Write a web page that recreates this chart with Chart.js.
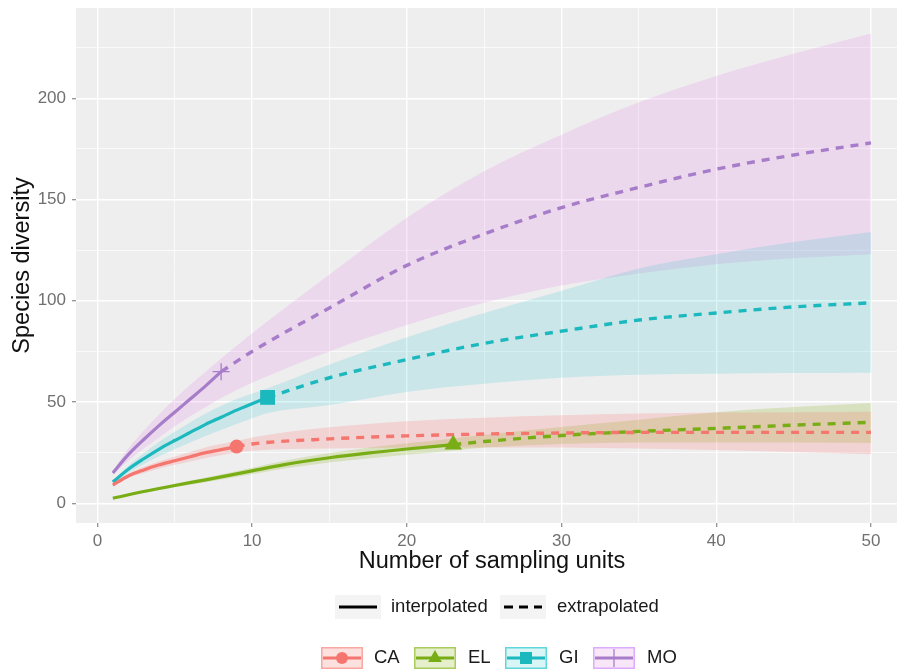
<!DOCTYPE html>
<html>
<head>
<meta charset="utf-8">
<script src="https://cdn.jsdelivr.net/npm/chart.js@4.4.1/dist/chart.umd.min.js"></script>
<style>
  html, body { margin: 0; padding: 0; background: #ffffff; }
  canvas { display: block; }
</style>
</head>
<body>
<canvas id="chart" width="897" height="670"></canvas>
<script>
// Axis ticks
const xMajorTicks = [0, 10, 20, 30, 40, 50];
const xMinorTicks = [5, 15, 25, 35, 45];
const yMajorTicks = [0, 50, 100, 150, 200];
const yMinorTicks = [25, 75, 125, 175, 225];
const xTitle = 'Number of sampling units';
const yTitle = 'Species diversity';

// Assemblages and their observed number of sampling units
const assemblages = ['CA', 'EL', 'GI', 'MO'];
const observedUnits = [9, 23, 11, 8];

// CA: rarefaction / extrapolation curve with 95% band
const caUnits = [1, 2, 3, 4, 5, 6, 7, 8, 9, 10, 15, 20, 25, 30, 35, 40, 45, 50];
const caMean  = [9, 13.5, 16.5, 19, 21, 23, 25, 26.5, 28, 29.3, 31.8, 33.3, 34.2, 34.7, 35, 35, 35, 35];
const caLower = [8.6, 12.5, 15, 17.2, 19, 20.7, 22.4, 23.7, 25.2, 26, 27, 27.5, 27.6, 27.5, 27, 26.3, 25.3, 24.2];
const caUpper = [9.4, 14.5, 18, 20.8, 23, 25.3, 27.6, 29.3, 30.8, 32.5, 37.5, 40.5, 42.3, 43.5, 44.3, 44.8, 45, 45.2];

// EL
const elUnits = [1, 3, 5, 7, 10, 12, 15, 18, 20, 23, 25, 30, 35, 40, 45, 50];
const elMean  = [2.5, 5.8, 8.8, 11.6, 16, 19, 22.5, 25.2, 26.8, 29, 30.5, 33.5, 35.5, 37, 38.6, 40];
const elLower = [2.2, 5.2, 7.9, 10.4, 14.4, 17.1, 20.2, 22.5, 24, 26, 27.5, 29.3, 30, 30, 30, 29.8];
const elUpper = [2.8, 6.4, 9.7, 12.8, 17.6, 20.9, 24.8, 27.9, 29.6, 32, 33.8, 37.7, 41.3, 45, 47.5, 49.5];

// GI
const giUnits = [1, 2, 3, 4, 5, 6, 7, 8, 9, 10, 11, 15, 20, 25, 30, 35, 40, 45, 50];
const giMean  = [10.5, 16.8, 22, 26.8, 31, 35, 39, 42.5, 46, 49.2, 52.3, 62, 71, 79, 85, 90.5, 94, 97, 99];
const giLower = [9.8, 15, 19.3, 23.2, 26.7, 30, 33.2, 36.2, 39.1, 42, 44.5, 48.5, 55, 59, 62, 63.5, 64, 64.3, 64.5];
const giUpper = [11.2, 18.6, 24.7, 30.4, 35.3, 40, 44.3, 48.2, 51.5, 54.2, 56.8, 68.5, 82, 94, 105, 116, 123, 129, 134];

// MO
const moUnits = [1, 2, 3, 4, 5, 6, 7, 8, 10, 15, 20, 25, 30, 35, 40, 45, 50];
const moMean  = [15, 24, 31.5, 38.5, 45, 51.5, 58, 65, 75, 96.5, 117.5, 133, 146, 156, 165, 172, 178];
const moLower = [14, 21, 27, 32.5, 38, 43, 47.5, 52, 59.5, 75, 88, 99, 107.5, 113.5, 118, 121, 123];
const moUpper = [16, 27, 36, 44, 51.5, 58.5, 65, 71.5, 84, 113, 141, 164, 182, 198, 211, 222, 232];

// Styling per assemblage
const lineColors = ['#F4766E', '#79AD16', '#1BB8BE', '#A77DCA'];
const bandColors = ['rgba(248,118,109,0.22)', 'rgba(124,174,0,0.20)', 'rgba(0,190,196,0.15)', 'rgba(220,130,225,0.20)'];
const keyBorders = ['rgba(248,118,109,0.55)', 'rgba(124,174,0,0.55)', 'rgba(0,190,196,0.55)', 'rgba(199,124,255,0.55)'];
const markerStyles = ['circle', 'triangle', 'rect', 'cross'];
const markerRadii = [7, 10, 10.5, 8.5];

const seriesTable = [
  { units: caUnits, mean: caMean, lower: caLower, upper: caUpper },
  { units: elUnits, mean: elMean, lower: elLower, upper: elUpper },
  { units: giUnits, mean: giMean, lower: giLower, upper: giUpper },
  { units: moUnits, mean: moMean, lower: moLower, upper: moUpper }
];

const pts = (xs, ys) => xs.map((x, i) => ({ x: x, y: ys[i] }));

const datasets = [];
seriesTable.forEach((s, k) => {
  const obs = observedUnits[k];
  // confidence band: lower edge, then upper edge filled down to it
  datasets.push({
    data: pts(s.units, s.lower), borderWidth: 0, pointRadius: 0, fill: false,
    cubicInterpolationMode: 'monotone', order: 10, borderColor: 'rgba(0,0,0,0)'
  });
  datasets.push({
    data: pts(s.units, s.upper), borderWidth: 0, pointRadius: 0, fill: '-1',
    backgroundColor: bandColors[k], cubicInterpolationMode: 'monotone', order: 10,
    borderColor: 'rgba(0,0,0,0)'
  });
  const all = pts(s.units, s.mean);
  // interpolated part (solid)
  datasets.push({
    data: all.filter(p => p.x <= obs), borderColor: lineColors[k], borderWidth: 3.2,
    pointRadius: 0, fill: false, cubicInterpolationMode: 'monotone', order: 5
  });
  // extrapolated part (dashed)
  datasets.push({
    data: all.filter(p => p.x >= obs), borderColor: lineColors[k], borderWidth: 3.4,
    borderDash: [8, 7], pointRadius: 0, fill: false, cubicInterpolationMode: 'monotone', order: 5
  });
  // observed sample point
  datasets.push({
    data: all.filter(p => p.x === obs), showLine: false,
    pointStyle: markerStyles[k], pointRadius: markerRadii[k],
    pointBackgroundColor: lineColors[k], pointBorderColor: lineColors[k],
    pointBorderWidth: k === 3 ? 1.3 : 0, order: 0
  });
});

// grey panel behind the plot area
const panelBackground = {
  id: 'panelBackground',
  beforeDraw(chart) {
    const { ctx, chartArea: a } = chart;
    ctx.save();
    ctx.fillStyle = '#EFEEEF';
    ctx.fillRect(a.left, a.top, a.right - a.left, a.bottom - a.top);
    ctx.restore();
  }
};

function drawMarker(ctx, style, x, y, r, color) {
  ctx.save();
  ctx.fillStyle = color;
  ctx.strokeStyle = color;
  ctx.beginPath();
  if (style === 'circle') {
    ctx.arc(x, y, r, 0, Math.PI * 2);
    ctx.fill();
  } else if (style === 'triangle') {
    ctx.moveTo(x, y - r);
    ctx.lineTo(x + r * 0.866, y + r * 0.5);
    ctx.lineTo(x - r * 0.866, y + r * 0.5);
    ctx.closePath();
    ctx.fill();
  } else if (style === 'rect') {
    const h = r * Math.SQRT1_2;
    ctx.rect(x - h, y - h, 2 * h, 2 * h);
    ctx.fill();
  } else {
    ctx.lineWidth = 1.3;
    ctx.moveTo(x - r, y); ctx.lineTo(x + r, y);
    ctx.moveTo(x, y - r); ctx.lineTo(x, y + r);
    ctx.stroke();
  }
  ctx.restore();
}

// x-axis title (centred on the full panel width) and the two-row legend
const bottomLegend = {
  id: 'bottomLegend',
  afterDraw(chart) {
    const ctx = chart.ctx;
    ctx.save();
    ctx.textBaseline = 'middle';

    ctx.font = '23.5px "Liberation Sans", Arial, sans-serif';
    ctx.textAlign = 'center';
    ctx.fillStyle = '#111111';
    ctx.fillText(xTitle, 492, 562);

    ctx.font = '18.5px "Liberation Sans", Arial, sans-serif';
    ctx.textAlign = 'left';
    const y1 = 607;
    ctx.fillStyle = '#F4F4F4';
    ctx.fillRect(335, 595, 46, 24);
    ctx.fillRect(500, 595, 46, 24);
    ctx.strokeStyle = '#000000';
    ctx.lineWidth = 3;
    ctx.beginPath(); ctx.moveTo(339, y1); ctx.lineTo(377, y1); ctx.stroke();
    ctx.setLineDash([9, 6]);
    ctx.beginPath(); ctx.moveTo(504, y1); ctx.lineTo(542, y1); ctx.stroke();
    ctx.setLineDash([]);
    ctx.fillStyle = '#1A1A1A';
    ctx.fillText('interpolated', 391, y1);
    ctx.fillText('extrapolated', 557, y1);

    const y2 = 658;
    const boxX = [321, 414, 505, 593];
    const textX = [374, 468, 559, 647];
    assemblages.forEach((name, k) => {
      const bx = boxX[k];
      ctx.fillStyle = '#FFFFFF';
      ctx.fillRect(bx, y2 - 11, 42, 22);
      ctx.fillStyle = bandColors[k];
      ctx.fillRect(bx, y2 - 11, 42, 22);
      ctx.strokeStyle = keyBorders[k];
      ctx.lineWidth = 1.5;
      ctx.strokeRect(bx + 0.75, y2 - 10.25, 40.5, 20.5);
      ctx.strokeStyle = lineColors[k];
      ctx.lineWidth = 3;
      ctx.beginPath(); ctx.moveTo(bx + 2, y2); ctx.lineTo(bx + 40, y2); ctx.stroke();
      const r = [6, 8, 8.5, 9][k];
      drawMarker(ctx, markerStyles[k], bx + 21, y2, r, lineColors[k]);
      ctx.fillStyle = '#1A1A1A';
      ctx.fillText(name, textX[k], y2);
    });
    ctx.restore();
  }
};

const isMajor = (list, v) => list.some(t => Math.abs(t - v) < 1e-9);
const noScalePadding = scale => {
  scale.paddingTop = 0; scale.paddingBottom = 0;
  scale.paddingLeft = 0; scale.paddingRight = 0;
};

new Chart(document.getElementById('chart'), {
  type: 'line',
  data: { datasets: datasets },
  plugins: [panelBackground, bottomLegend],
  options: {
    responsive: false,
    animation: false,
    devicePixelRatio: 1,
    layout: { autoPadding: false, padding: { top: 8, right: 0, bottom: 94, left: 0 } },
    plugins: { legend: { display: false }, tooltip: { enabled: false } },
    elements: { line: { borderCapStyle: 'butt' } },
    scales: {
      x: {
        type: 'linear',
        min: -1.38,
        max: 51.68,
        afterBuildTicks(scale) {
          scale.ticks = xMajorTicks.concat(xMinorTicks).sort((a, b) => a - b).map(v => ({ value: v }));
        },
        afterFit(scale) { scale.height = 53; noScalePadding(scale); },
        ticks: {
          autoSkip: false, maxRotation: 0, padding: 4, color: '#707070',
          font: { family: '"Liberation Sans", Arial, sans-serif', size: 17 },
          callback: v => isMajor(xMajorTicks, v) ? String(v) : ''
        },
        grid: {
          color: '#FFFFFF',
          lineWidth: ctx => (ctx.tick && isMajor(xMajorTicks, ctx.tick.value)) ? 1.4 : 0.7,
          tickLength: 4,
          tickWidth: 1.2,
          tickColor: ctx => (ctx.tick && isMajor(xMajorTicks, ctx.tick.value)) ? '#8A8A8A' : 'rgba(0,0,0,0)'
        },
        border: { display: false },
        title: { display: false }
      },
      y: {
        type: 'linear',
        min: -9.73,
        max: 244.6,
        afterBuildTicks(scale) {
          scale.ticks = yMajorTicks.concat(yMinorTicks).sort((a, b) => a - b).map(v => ({ value: v }));
        },
        afterFit(scale) { scale.width = 76; noScalePadding(scale); },
        ticks: {
          autoSkip: false, padding: 6, color: '#707070',
          font: { family: '"Liberation Sans", Arial, sans-serif', size: 17 },
          callback: v => isMajor(yMajorTicks, v) ? String(v) : ''
        },
        grid: {
          color: '#FFFFFF',
          lineWidth: ctx => (ctx.tick && isMajor(yMajorTicks, ctx.tick.value)) ? 1.4 : 0.7,
          tickLength: 4,
          tickWidth: 1.2,
          tickColor: ctx => (ctx.tick && isMajor(yMajorTicks, ctx.tick.value)) ? '#8A8A8A' : 'rgba(0,0,0,0)'
        },
        border: { display: false },
        title: {
          display: true, text: yTitle, color: '#111111',
          font: { family: '"Liberation Sans", Arial, sans-serif', size: 23.5 },
          padding: { top: 8, bottom: 0 }
        }
      }
    }
  }
});
</script>
</body>
</html>
